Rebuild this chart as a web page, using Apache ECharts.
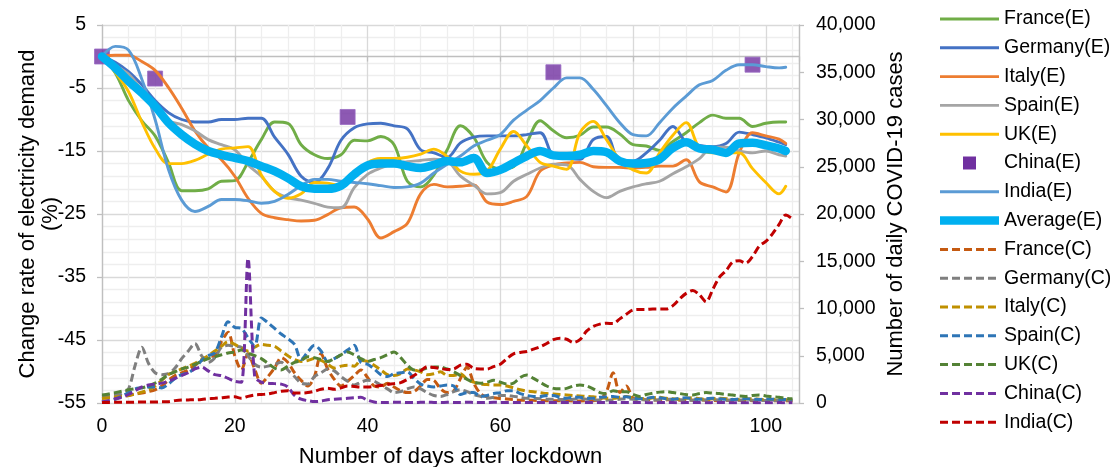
<!DOCTYPE html>
<html>
<head>
<meta charset="utf-8">
<script src="https://cdn.jsdelivr.net/npm/echarts@6/dist/echarts.min.js"></script>
<style>
  html, body { margin: 0; padding: 0; background: #ffffff; }
  #chart { width: 1113px; height: 467px; }
</style>
</head>
<body>
<div id="chart"></div>
<script>
// Days after lockdown for the electricity-demand series (E)
const eDays = [0, 2, 4, 6, 8, 10, 12, 14, 16, 18,
  20, 22, 24, 26, 28, 30, 32, 34, 36, 38,
  40, 42, 44, 46, 48, 50, 52, 54, 56, 58,
  60, 62, 64, 66, 68, 70, 72, 74, 76, 78,
  80, 82, 84, 86, 88, 90, 92, 94, 96, 98,
  100, 102, 103];

// Change rate of electricity demand (%)
const franceE = [0, -2.6, -7.0, -10.2, -12.6, -16.8, -21.3, -21.3, -21.0, -19.8,
  -19.7, -16.8, -13.2, -10.4, -10.6, -14.0, -15.6, -16.2, -15.6, -13.3,
  -13.4, -12.7, -14.0, -19.8, -20.7, -18.8, -14.8, -11.0, -12.8, -16.8,
  -17.8, -17.5, -13.7, -10.2, -11.8, -12.9, -12.5, -11.2, -11.2, -12.3,
  -14.0, -14.2, -14.9, -13.5, -12.1, -10.5, -9.3, -9.8, -9.8, -11.1,
  -10.6, -10.4, -10.4];
const germanyE = [0, -0.9, -2.4, -4.5, -7.0, -8.9, -10.0, -10.4, -10.4, -10.0,
  -10.0, -9.8, -9.8, -12.8, -15.5, -19.0, -20.0, -17.8, -13.3, -11.3,
  -10.7, -10.6, -11.0, -11.5, -14.8, -15.3, -16.0, -13.7, -12.8, -12.6,
  -12.6, -12.6, -12.4, -12.1, -15.8, -16.2, -16.3, -13.2, -12.7, -16.6,
  -16.6, -15.3, -13.3, -11.1, -13.6, -14.1, -14.3, -13.8, -12.0, -12.4,
  -12.9, -13.6, -14.0];
const italyE = [0, 0.2, 0.2, -0.8, -2.2, -4.9, -8.2, -11.8, -14.5, -16.4,
  -19.0, -22.5, -24.9, -25.6, -25.9, -26.1, -26.0, -25.1, -24.0, -23.9,
  -25.8, -28.8, -27.8, -26.5, -21.8, -20.3, -20.7, -20.6, -20.4, -23.1,
  -23.5, -23.0, -22.2, -18.2, -17.2, -16.9, -16.8, -17.5, -17.6, -17.6,
  -17.7, -17.6, -17.4, -17.4, -16.4, -19.9, -20.7, -21.5, -15.3, -12.1,
  -12.6, -13.1, -13.8];
const spainE = [0, -1.4, -2.8, -5.3, -7.9, -10.2, -10.8, -11.8, -13.2, -14.0,
  -14.8, -17.2, -19.0, -21.4, -22.4, -22.8, -23.3, -23.9, -24.0, -20.8,
  -18.7, -17.7, -17.0, -16.7, -16.5, -16.3, -16.6, -19.0, -20.4, -21.8,
  -21.6, -19.8, -18.7, -17.7, -17.1, -17.2, -19.5, -21.4, -22.4, -21.4,
  -20.7, -20.2, -19.8, -18.6, -17.5, -16.2, -14.4, -14.4, -15.0, -15.3,
  -15.0, -15.6, -15.8];
const ukE = [0, -2.5, -5.6, -10.4, -14.6, -17.0, -17.0, -16.5, -15.5, -14.7,
  -14.5, -14.3, -18.8, -21.4, -22.5, -21.8, -20.0, -20.1, -20.5, -19.0,
  -16.9, -16.2, -16.2, -16.0, -15.5, -14.7, -15.9, -18.2, -18.7, -18.2,
  -14.7, -11.9, -14.2, -16.8, -17.4, -17.9, -12.1, -10.3, -13.2, -16.4,
  -18.0, -18.5, -15.3, -12.5, -10.5, -14.5, -15.3, -15.3, -15.3, -17.8,
  -20.0, -21.8, -20.6];
const indiaE = [0, 1.6, 1.0, -3.6, -10.0, -17.9, -22.8, -24.6, -23.8, -22.7,
  -22.7, -22.9, -23.3, -23.0, -21.9, -20.5, -19.5, -19.5, -19.8, -20.0,
  -20.2, -20.5, -20.8, -20.7, -20.1, -18.5, -17.1, -15.8, -14.2, -13.3,
  -12.4, -10.1, -8.5, -7.0, -5.0, -3.4, -3.4, -5.2, -7.8, -10.5,
  -12.4, -12.6, -10.5, -8.2, -6.3, -4.5, -3.8, -2.2, -1.3, -1.3,
  -1.6, -1.8, -1.7];
const averageE = [0, -1.8, -3.9, -5.8, -7.9, -10.5, -12.4, -13.9, -15.0, -15.6,
  -16.1, -16.6, -17.4, -18.2, -19.3, -20.6, -21.0, -21.0, -20.5, -18.7,
  -17.3, -17.0, -17.0, -17.4, -17.7, -17.2, -16.6, -16.8, -16.1, -18.5,
  -18.0, -16.9, -15.8, -15.0, -15.7, -15.8, -15.6, -15.0, -15.2, -16.6,
  -17.0, -16.9, -16.3, -14.5, -13.6, -14.6, -14.8, -15.3, -13.8, -13.7,
  -14.1, -14.6, -15.0];

// China's electricity demand is only available on a few days
const chinaEDays = [0, 8, 37, 68, 98];
const chinaE = [0, -3.5, -9.6, -2.5, -1.3];

// Days after lockdown for the daily case series (C)
const cDays = [0, 1, 2, 3, 4, 5, 6, 7, 8, 9,
  10, 11, 12, 13, 14, 15, 16, 17, 18, 19,
  20, 21, 22, 23, 24, 25, 26, 27, 28, 29,
  30, 31, 32, 33, 34, 35, 36, 37, 38, 39,
  40, 41, 42, 43, 44, 45, 46, 47, 48, 49,
  50, 51, 52, 53, 54, 55, 56, 57, 58, 59,
  60, 61, 62, 63, 64, 65, 66, 67, 68, 69,
  70, 71, 72, 73, 74, 75, 76, 77, 78, 79,
  80, 81, 82, 83, 84, 85, 86, 87, 88, 89,
  90, 91, 92, 93, 94, 95, 96, 97, 98, 99,
  100, 101, 102, 103, 104];

// Number of daily COVID-19 cases
const franceC = [500, 550, 620, 700, 800, 950, 1050, 1200, 1400, 1800,
  2400, 2900, 3200, 3500, 4000, 4500, 4900, 5000, 6500, 7500,
  5000, 3500, 5200, 3600, 2100, 2800, 3700, 4800, 4300, 3200,
  2400, 1800, 2800, 5200, 3600, 2500, 1800, 2300, 2900, 3500,
  2700, 1800, 1700, 2100, 1700, 1300, 1100, 1200, 1800, 2500,
  2400, 1500, 1100, 1300, 2600, 3800, 2100, 1000, 650, 550,
  480, 420, 350, 300, 300, 280, 260, 250, 250, 240,
  230, 220, 220, 230, 250, 350, 1200, 3200, 1100, 1800,
  500, 400, 350, 320, 300, 330, 350, 300, 280, 300,
  320, 300, 280, 250, 270, 300, 280, 260, 250, 270,
  260, 240, 230, 240, 220];
const germanyC = [700, 800, 900, 1000, 1500, 4000, 5900, 4200, 3200, 3000,
  3100, 3700, 4700, 5500, 6300, 5000, 4300, 4800, 5900, 6100,
  6000, 5900, 5000, 4100, 3800, 3900, 4100, 4300, 3500, 2800,
  2100, 2000, 2800, 3200, 3600, 3400, 2800, 2300, 1900, 2200,
  2400, 2300, 1900, 1500, 1100, 1200, 1500, 1700, 1500, 1100,
  800, 700, 900, 1200, 1400, 1200, 900, 700, 500, 600,
  800, 800, 700, 600, 500, 480, 450, 420, 400, 380,
  350, 400, 450, 400, 350, 320, 300, 350, 400, 450,
  400, 350, 320, 300, 350, 400, 380, 350, 300, 280,
  300, 330, 350, 320, 300, 280, 300, 320, 300, 280,
  270, 260, 280, 300, 280];
const italyC = [500, 560, 630, 700, 800, 950, 1150, 1400, 1800, 2400,
  3000, 3300, 3600, 3900, 4200, 4600, 5000, 5500, 6000, 6500,
  6200, 5800, 5500, 5900, 6200, 6100, 6000, 5500, 5000, 4600,
  4400, 4500, 4700, 4500, 4100, 3700, 3900, 4000, 3900, 4500,
  4400, 4000, 3500, 3000, 2900, 3100, 3600, 3500, 3300, 3000,
  3100, 3300, 2900, 2900, 3100, 2500, 2200, 2000, 1950, 1900,
  1900, 1800, 1600, 1400, 1250, 1200, 1100, 1000, 950, 900,
  850, 800, 750, 700, 650, 550, 500, 500, 600, 700,
  550, 500, 450, 550, 600, 500, 450, 400, 500, 550,
  450, 400, 450, 500, 450, 400, 380, 420, 450, 400,
  350, 380, 400, 350, 300];
const spainC = [100, 200, 400, 700, 1100, 1500, 1600, 1700, 1700, 1600,
  2000, 2600, 3000, 3200, 3700, 4500, 5000, 5300, 7000, 8600,
  8000, 7900, 6900, 6000, 9000, 8500, 7900, 7300, 6800, 6200,
  4600, 5400, 6100, 5500, 4400, 4700, 5100, 5600, 6100, 4300,
  4100, 3600, 3000, 2800, 3100, 3200, 3300, 2600, 2000, 1800,
  1700, 1800, 1900, 1800, 900, 1100, 1100, 700, 800, 1000,
  1100, 1300, 1300, 1000, 800, 700, 700, 800, 800, 600,
  500, 650, 600, 500, 500, 600, 650, 700, 600, 650,
  550, 450, 500, 600, 550, 450, 400, 500, 550, 450,
  400, 450, 500, 450, 400, 380, 420, 450, 400, 380,
  420, 400, 380, 360, 350];
const ukC = [850, 950, 1100, 1250, 1400, 1500, 1600, 1800, 2100, 2500,
  3000, 3300, 3600, 3800, 4100, 4400, 4700, 4900, 5100, 5300,
  5400, 5600, 5300, 5000, 4700, 4200, 3700, 3500, 3900, 4300,
  4500, 4900, 4800, 4600, 4400, 4700, 5100, 5400, 5100, 4700,
  4400, 4600, 4800, 5100, 5400, 4800, 4000, 3500, 3500, 3700,
  3800, 3800, 3600, 3300, 2900, 2500, 2200, 2100, 2200, 2400,
  2200, 2000, 2100, 2700, 2950, 2600, 2200, 1800, 1550, 1500,
  1550, 1800, 1900, 1800, 1500, 1100, 1000, 1300, 1200, 1200,
  900, 700, 900, 1050, 1150, 1200, 1100, 1000, 900, 850,
  1000, 1100, 1050, 1000, 900, 850, 750, 700, 800, 850,
  750, 650, 600, 500, 450];
const chinaC = [100, 250, 450, 600, 900, 1300, 1700, 1900, 2000, 2100,
  2300, 2600, 2900, 3200, 3600, 3800, 3400, 3000, 2900, 2600,
  2300, 2200, 15300, 2800, 2200, 2100, 2050, 2000, 1700, 800,
  400, 250, 150, 200, 350, 400, 450, 500, 550, 600,
  300, 100, 50, 60, 80, 70, 60, 50, 70, 80,
  60, 50, 70, 60, 50, 80, 60, 50, 60, 70,
  60, 50, 60, 50, 40, 50, 60, 50, 40, 50,
  40, 50, 60, 50, 40, 50, 40, 50, 60, 50,
  40, 50, 40, 30, 40, 50, 40, 30, 40, 50,
  40, 30, 40, 50, 40, 30, 40, 30, 40, 30,
  40, 30, 40, 30, 30];
const indiaC = [50, 60, 70, 80, 80, 90, 100, 100, 110, 120,
  130, 250, 320, 330, 340, 380, 450, 500, 560, 640,
  650, 500, 700, 850, 900, 950, 1100, 1250, 1300, 1050,
  1050, 1100, 1250, 1450, 1550, 1450, 1600, 1800, 1750, 1700,
  1700, 1750, 1850, 1950, 2050, 2150, 2500, 2900, 3400, 3850,
  3750, 3650, 3550, 3600, 4000, 4100, 3650, 3600, 3600, 3850,
  4100, 4700, 5200, 5350, 5450, 5700, 5950, 6300, 6700, 6850,
  6750, 6400, 6700, 7600, 8100, 8350, 8450, 8400, 8900, 9400,
  9850, 9900, 9900, 9950, 9950, 9950, 10300, 11000, 11600, 11900,
  11450, 10700, 12000, 13300, 14000, 14900, 15050, 14800, 15500, 16600,
  17100, 17900, 18900, 19900, 19500];

// Axis ranges and tick steps
const demandRange = [-55, 5];
const demandStep = 10;
const casesRange = [0, 40000];
const casesStep = 5000;
const dayRange = [0, 105];
const dayStep = 20;

const FONT = "'Liberation Sans', Arial, Helvetica, sans-serif";
const TEXT = '#000000';
const AXIS_GREY = '#BFBFBF';
const MAJOR_GRID = '#D9D9D9';
const MINOR_GRID = '#EEEEEE';
const SQUARE_ICON = 'path://M0,0L10,0L10,10L0,10Z';
const AVERAGE_WIDTH = 8.5;

function pairs(days, vals) {
  return days.map((d, i) => [d, vals[i]]);
}

function demandLine(name, vals, color, width) {
  return {
    name, type: 'line', xAxisIndex: 0, yAxisIndex: 0,
    data: pairs(eDays, vals),
    symbol: 'none', showSymbol: false, smooth: 0.35,
    lineStyle: { color, width: width || 2.9, cap: 'round', join: 'round' },
    itemStyle: { color },
    emphasis: { disabled: true }, silent: true
  };
}

function casesLine(name, vals, color) {
  return {
    name, type: 'line', xAxisIndex: 0, yAxisIndex: 1,
    data: pairs(cDays, vals),
    symbol: 'none', showSymbol: false, smooth: 0.3,
    lineStyle: { color, width: 3, type: [8, 4] },
    itemStyle: { color },
    emphasis: { disabled: true }, silent: true
  };
}

function thousands(v) {
  return String(v).replace(/\B(?=(\d{3})+(?!\d))/g, ',');
}

const series = [
  demandLine('France(E)', franceE, '#70AD47'),
  demandLine('Germany(E)', germanyE, '#4472C4'),
  demandLine('Italy(E)', italyE, '#ED7D31'),
  demandLine('Spain(E)', spainE, '#A5A5A5'),
  demandLine('UK(E)', ukE, '#FFC000'),
  {
    name: 'China(E)', type: 'scatter', xAxisIndex: 0, yAxisIndex: 0,
    data: pairs(chinaEDays, chinaE),
    symbol: 'rect', symbolSize: 15,
    itemStyle: { color: '#7030A0', borderColor: '#9A6CC4', borderWidth: 1 },
    emphasis: { disabled: true }, silent: true
  },
  demandLine('India(E)', indiaE, '#5B9BD5'),
  demandLine('Average(E)', averageE, '#00B0F0', AVERAGE_WIDTH),
  casesLine('France(C)', franceC, '#C55A11'),
  casesLine('Germany(C)', germanyC, '#7F7F7F'),
  casesLine('Italy(C)', italyC, '#BF9000'),
  casesLine('Spain(C)', spainC, '#2E75B6'),
  casesLine('UK(C)', ukC, '#548235'),
  casesLine('China(C)', chinaC, '#7030A0'),
  casesLine('India(C)', indiaC, '#C00000')
];

// Legend: plain line keys for the lines, a small square for China(E)
const legendItems = series.map(s => {
  if (s.type === 'scatter') {
    return { name: s.name, icon: SQUARE_ICON, itemStyle: { opacity: 1, borderWidth: 0 } };
  }
  return { name: s.name, lineStyle: { width: s.lineStyle.width, cap: 'butt' } };
});

const chart = echarts.init(document.getElementById('chart'), null, { renderer: 'canvas' });

chart.setOption({
  animation: false,
  backgroundColor: '#ffffff',
  textStyle: { fontFamily: FONT, color: TEXT },
  grid: { left: 102, right: 314, top: 25, bottom: 64, containLabel: false, outerBoundsMode: 'none' },
  legend: {
    orient: 'vertical', left: 935.75, top: 8, padding: 0,
    itemWidth: 59, itemHeight: 13, itemGap: 6.8,
    selectedMode: false,
    itemStyle: { opacity: 0 },
    textStyle: { fontSize: 19.5, color: TEXT, fontFamily: FONT, lineHeight: 22 },
    data: legendItems
  },
  xAxis: [
    {
      // horizontal axis line drawn where the demand change is zero
      type: 'value', min: dayRange[0], max: dayRange[1], interval: dayStep, position: 'bottom',
      axisLine: { show: true, onZero: true, onZeroAxisIndex: 0, lineStyle: { color: AXIS_GREY, width: 1.3 } },
      axisTick: { show: true, length: 5, lineStyle: { color: AXIS_GREY, width: 1.3 } },
      axisLabel: { show: false },
      splitLine: { show: false }
    },
    {
      // day labels, title and vertical grid at the bottom of the plot
      type: 'value', min: dayRange[0], max: dayRange[1], interval: dayStep, position: 'bottom',
      axisLine: { show: false, onZero: false },
      axisTick: { show: false },
      axisLabel: { show: true, showMaxLabel: false, margin: 14, fontSize: 19.5, color: TEXT, fontFamily: FONT },
      splitLine: { show: true, lineStyle: { color: MAJOR_GRID, width: 1.3 } },
      minorTick: { show: false, splitNumber: 5 },
      minorSplitLine: { show: true, lineStyle: { color: MINOR_GRID, width: 1.3 } },
      name: 'Number of days after lockdown', nameLocation: 'middle', nameGap: 43, nameMoveOverlap: false,
      nameTextStyle: { fontSize: 22, color: TEXT, fontFamily: FONT }
    }
  ],
  yAxis: [
    {
      type: 'value', min: demandRange[0], max: demandRange[1], interval: demandStep, position: 'left',
      axisLine: { show: true, onZero: false, lineStyle: { color: AXIS_GREY, width: 1.3 } },
      axisTick: { show: true, length: 5, lineStyle: { color: AXIS_GREY, width: 1.3 } },
      axisLabel: { margin: 16, fontSize: 19.5, color: TEXT, fontFamily: FONT },
      splitLine: { show: true, lineStyle: { color: MAJOR_GRID, width: 1.3 } },
      minorTick: { show: false, splitNumber: 5 },
      minorSplitLine: { show: true, lineStyle: { color: MINOR_GRID, width: 1.3 } },
      name: 'Change rate of electricity demand\n(%)', nameLocation: 'middle', nameGap: 40, nameRotate: 90,
      nameMoveOverlap: false,
      nameTextStyle: { fontSize: 22, lineHeight: 23, color: TEXT, fontFamily: FONT, align: 'center' }
    },
    {
      type: 'value', min: casesRange[0], max: casesRange[1], interval: casesStep, position: 'right',
      axisLine: { show: true, onZero: false, lineStyle: { color: AXIS_GREY, width: 1.3 } },
      axisTick: { show: true, length: 5, lineStyle: { color: AXIS_GREY, width: 1.3 } },
      axisLabel: { margin: 17, fontSize: 19.5, color: TEXT, fontFamily: FONT, formatter: thousands },
      splitLine: { show: false },
      name: 'Number of daily COVID-19 cases', nameLocation: 'middle', nameGap: 86, nameRotate: 90,
      nameMoveOverlap: false,
      nameTextStyle: { fontSize: 22, color: TEXT, fontFamily: FONT }
    }
  ],
  series
});
</script>
</body>
</html>
